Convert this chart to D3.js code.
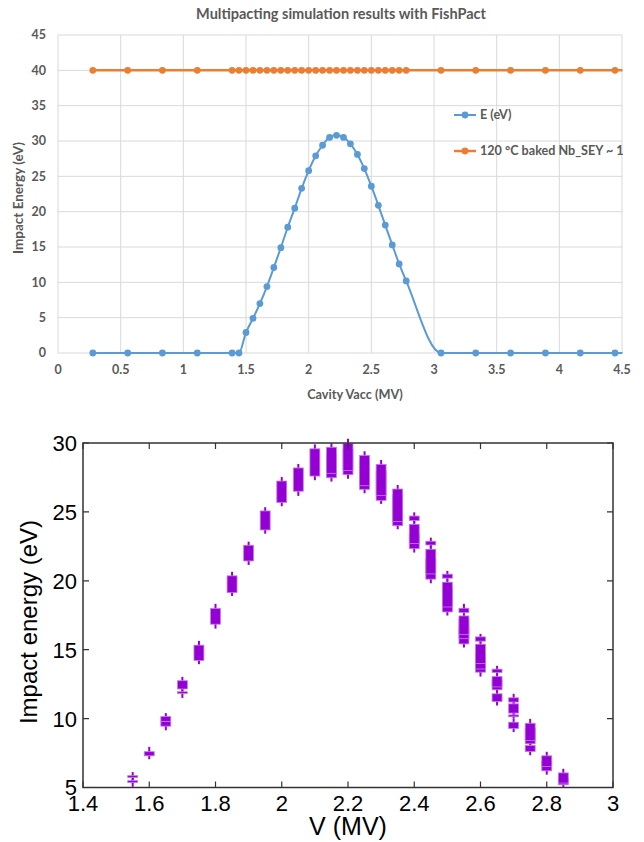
<!DOCTYPE html>
<html>
<head>
<meta charset="utf-8">
<script src="https://cdn.jsdelivr.net/npm/d3@7"></script>
<style>
  body { margin: 0; background: #fff; }
  svg { display: block; }
</style>
</head>
<body>
<script>
// Top chart (FishPact) data
const vacc = [0.278, 0.556, 0.833, 1.111, 1.389, 1.444, 1.5, 1.556, 1.611, 1.667, 1.722, 1.778,
  1.833, 1.889, 1.944, 2.0, 2.056, 2.111, 2.167, 2.222, 2.278, 2.333, 2.389, 2.444, 2.5,
  2.556, 2.611, 2.667, 2.722, 2.778, 3.056, 3.333, 3.611, 3.889, 4.167, 4.444, 4.722];
const energyE = [0, 0, 0, 0, 0, 0, 2.9, 4.9, 7.0, 9.4, 12.1, 14.9,
  17.8, 20.5, 23.3, 25.8, 27.9, 29.4, 30.5, 30.8, 30.5, 29.6, 28.1, 26.1, 23.6,
  20.9, 18.1, 15.3, 12.6, 10.2, 0, 0, 0, 0, 0, 0, 0];
const seyLine = [40, 40, 40, 40, 40, 40, 40, 40, 40, 40, 40, 40,
  40, 40, 40, 40, 40, 40, 40, 40, 40, 40, 40, 40, 40,
  40, 40, 40, 40, 40, 40, 40, 40, 40, 40, 40, 40];
const topXTicks = [0, 0.5, 1, 1.5, 2, 2.5, 3, 3.5, 4, 4.5];
const topYTicks = [0, 5, 10, 15, 20, 25, 30, 35, 40, 45];
const topSeries = ["E (eV)", "120 °C baked Nb_SEY ~ 1"];

// Bottom chart (candlesticks) data: one entry per box
const candleV = [1.55, 1.55, 1.6, 1.65, 1.65, 1.7, 1.7, 1.75, 1.8, 1.85, 1.9, 1.95, 2.0, 2.05, 2.1,
  2.15, 2.15, 2.2, 2.2, 2.25, 2.25, 2.3, 2.3, 2.35, 2.35,
  2.4, 2.4, 2.4, 2.45, 2.45, 2.45, 2.5, 2.5, 2.5,
  2.55, 2.55, 2.55, 2.55, 2.6, 2.6, 2.6, 2.6, 2.65, 2.65, 2.65, 2.65,
  2.7, 2.7, 2.7, 2.7, 2.75, 2.75, 2.75, 2.8, 2.8, 2.85, 2.85];
const candleLo = [5.05, 5.3, 7.05, 9.15, 9.4, 11.9, 11.5, 13.95, 16.53, 18.9, 21.15, 23.42, 25.41, 26.16, 27.3,
  27.2, 27.5, 27.4, 27.7, 26.35, 26.6, 25.58, 25.9, 23.74, 24.0,
  22.05, 22.4, 24.2, 19.82, 20.2, 22.4, 17.48, 17.8, 20.0,
  15.16, 15.5, 15.9, 17.6, 13.05, 13.3, 13.7, 15.5, 10.95, 11.9, 12.0, 13.2,
  9.02, 10.0, 10.2, 11.1, 7.34, 7.9, 8.1, 5.93, 6.2, 5.0, 5.3];
const candleQ1 = [5.36, 5.72, 7.3, 9.45, 9.8, 12.15, 11.82, 14.22, 16.85, 19.14, 21.44, 23.69, 25.69, 26.5, 27.6,
  27.48, 27.8, 27.7, 28.0, 26.64, 26.9, 25.84, 26.2, 24.0, 24.3,
  22.33, 22.7, 24.37, 20.12, 20.5, 22.6, 17.74, 18.1, 20.19,
  15.42, 15.8, 16.1, 17.69, 13.37, 13.6, 14.0, 15.62, 11.24, 12.09, 12.3, 13.34,
  9.28, 10.13, 10.4, 11.2, 7.61, 8.17, 8.4, 6.21, 6.53, 5.2, 5.32];
const candleQ3 = [5.5, 5.86, 7.6, 9.8, 10.15, 12.75, 11.95, 15.33, 18.0, 20.36, 22.58, 25.07, 27.24, 28.19, 29.58,
  29.2, 29.69, 29.56, 29.98, 28.7, 29.1, 27.97, 28.45, 26.2, 26.66,
  23.38, 24.1, 24.7, 21.6, 22.29, 22.87, 19.49, 19.9, 20.48,
  16.63, 17.21, 17.45, 18.01, 14.26, 14.65, 15.4, 15.93, 11.8, 12.81, 13.05, 13.59,
  9.74, 10.27, 11.07, 11.51, 8.05, 9.31, 9.66, 6.89, 7.3, 5.69, 6.06];
const candleHi = [5.9, 6.12, 7.95, 10.1, 10.4, 13.03, 12.2, 15.64, 18.33, 20.65, 22.84, 25.34, 27.53, 28.48, 29.9,
  29.5, 29.98, 29.9, 30.3, 29.0, 29.4, 28.3, 28.77, 26.5, 26.95,
  23.7, 24.4, 24.97, 21.9, 22.6, 23.13, 19.8, 20.1, 20.72,
  16.9, 17.45, 17.6, 18.33, 14.5, 15.0, 15.6, 16.15, 12.0, 13.0, 13.3, 13.83,
  10.0, 10.5, 11.3, 11.8, 8.2, 9.6, 9.98, 7.1, 7.59, 5.9, 6.36];
const botXTicks = [1.4, 1.6, 1.8, 2, 2.2, 2.4, 2.6, 2.8, 3];
const botYTicks = [5, 10, 15, 20, 25, 30];

const W = 644, H = 842;
const svg = d3.select("body").append("svg").attr("width", W).attr("height", H);

// ---------------- top chart ----------------
const topFont = "Lato, 'Open Sans', sans-serif";
const gray = "#595959";
const xT = d3.scaleLinear().domain([0, 4.5]).range([58, 622]);
const yT = d3.scaleLinear().domain([0, 45]).range([353, 35]);

const topG = svg.append("g");
topG.append("defs").append("clipPath").attr("id", "clipTop")
  .append("rect").attr("x", 54).attr("y", 25).attr("width", 568.5).attr("height", 340);

// gridlines
topG.append("g").selectAll("line").data(topYTicks).join("line")
  .attr("x1", xT(0)).attr("x2", xT(4.5))
  .attr("y1", d => yT(d)).attr("y2", d => yT(d))
  .attr("stroke", "#d9d9d9").attr("stroke-width", 1);
topG.append("g").selectAll("line").data(topXTicks).join("line")
  .attr("x1", d => xT(d)).attr("x2", d => xT(d))
  .attr("y1", yT(0)).attr("y2", yT(45))
  .attr("stroke", "#d9d9d9").attr("stroke-width", 1);

// tick labels
topG.append("g").selectAll("text").data(topYTicks).join("text")
  .attr("x", 46).attr("y", d => yT(d)).attr("dy", "0.35em")
  .attr("text-anchor", "end").attr("fill", gray)
  .attr("font-family", topFont).attr("font-size", 12.5).attr("font-weight", "bold")
  .text(d => d);
topG.append("g").selectAll("text").data(topXTicks).join("text")
  .attr("x", d => xT(d)).attr("y", 374)
  .attr("text-anchor", "middle").attr("fill", gray)
  .attr("font-family", topFont).attr("font-size", 12.5).attr("font-weight", "bold")
  .text(d => d);

// titles
topG.append("text").attr("x", 341).attr("y", 19).attr("text-anchor", "middle")
  .attr("fill", gray).attr("font-family", topFont).attr("font-size", 14.5).attr("font-weight", "bold")
  .text("Multipacting simulation results with FishPact");
topG.append("text").attr("x", 355).attr("y", 399).attr("text-anchor", "middle")
  .attr("fill", gray).attr("font-family", topFont).attr("font-size", 12.7).attr("font-weight", "bold")
  .text("Cavity Vacc (MV)");
topG.append("text").attr("transform", "translate(23,198) rotate(-90)").attr("text-anchor", "middle")
  .attr("fill", gray).attr("font-family", topFont).attr("font-size", 13.5).attr("font-weight", "bold")
  .text("Impact Energy (eV)");

const seriesG = topG.append("g").attr("clip-path", "url(#clipTop)");
const orange = "#ed7d31", blue = "#5b9bd5";
const sey = vacc.map((v, i) => [v, seyLine[i]]);
const eE = vacc.map((v, i) => [v, energyE[i]]);

seriesG.append("path").datum(sey)
  .attr("fill", "none").attr("stroke", orange).attr("stroke-width", 2.5)
  .attr("d", d3.line().x(d => xT(d[0])).y(d => yT(d[1])));
seriesG.append("g").selectAll("circle").data(sey).join("circle")
  .attr("cx", d => xT(d[0])).attr("cy", d => yT(d[1])).attr("r", 3.4).attr("fill", orange);

seriesG.append("path").datum(eE)
  .attr("fill", "none").attr("stroke", blue).attr("stroke-width", 2)
  .attr("d", d3.line().curve(d3.curveMonotoneX).x(d => xT(d[0])).y(d => yT(d[1])));
seriesG.append("g").selectAll("circle").data(eE).join("circle")
  .attr("cx", d => xT(d[0])).attr("cy", d => yT(d[1])).attr("r", 3.4).attr("fill", blue);

// legend
const leg = topG.append("g");
[blue, orange].forEach((c, i) => {
  const ly = 115 + i * 36;
  leg.append("line").attr("x1", 454).attr("x2", 476).attr("y1", ly).attr("y2", ly)
    .attr("stroke", c).attr("stroke-width", i ? 2.5 : 2);
  leg.append("circle").attr("cx", 465).attr("cy", ly).attr("r", 3.4).attr("fill", c);
  leg.append("text").attr("x", 480).attr("y", ly).attr("dy", "0.35em")
    .attr("fill", gray).attr("font-family", topFont).attr("font-size", 12.6).attr("font-weight", "bold")
    .text(topSeries[i]);
});

// ---------------- bottom chart ----------------
const botFont = "'Liberation Sans', Arial, sans-serif";
const xB = d3.scaleLinear().domain([1.4, 3]).range([83, 613]);
const yB = d3.scaleLinear().domain([5, 30]).range([787.5, 443]);
const botG = svg.append("g");
const violet = "#9400d3";
const boxW = xB(1.43) - xB(1.4);

// candlesticks
const candles = candleV.map((v, i) => ({ v, lo: candleLo[i], q1: candleQ1[i], q3: candleQ3[i], hi: candleHi[i] }));
const cg = botG.append("g");
cg.selectAll("line").data(candles).join("line")
  .attr("x1", d => xB(d.v)).attr("x2", d => xB(d.v))
  .attr("y1", d => yB(d.lo)).attr("y2", d => yB(d.hi))
  .attr("stroke", violet).attr("stroke-width", 2);
cg.selectAll("rect").data(candles).join("rect")
  .attr("x", d => xB(d.v) - boxW / 2).attr("width", boxW)
  .attr("y", d => yB(d.q3)).attr("height", d => yB(d.q1) - yB(d.q3))
  .attr("fill", violet).attr("stroke", "#c27fe6").attr("stroke-width", 0.8);

// border and ticks
const bx0 = xB(1.4), bx1 = xB(3), by0 = yB(5), by1 = yB(30);
const border = "#333";
botG.append("rect").attr("x", bx0).attr("y", by1).attr("width", bx1 - bx0).attr("height", by0 - by1)
  .attr("fill", "none").attr("stroke", border).attr("stroke-width", 1.5);
botG.append("g").selectAll("path").data(botXTicks).join("path")
  .attr("d", d => `M${xB(d)},${by0}v-6M${xB(d)},${by1}v6`)
  .attr("stroke", border).attr("stroke-width", 1.2);
botG.append("g").selectAll("path").data(botYTicks).join("path")
  .attr("d", d => `M${bx0},${yB(d)}h6M${bx1},${yB(d)}h-6`)
  .attr("stroke", border).attr("stroke-width", 1.2);

botG.append("g").selectAll("text").data(botXTicks).join("text")
  .attr("x", d => xB(d)).attr("y", 811).attr("text-anchor", "middle")
  .attr("font-family", botFont).attr("font-size", 22).attr("fill", "#000")
  .text(d => d);
botG.append("g").selectAll("text").data(botYTicks).join("text")
  .attr("x", 77).attr("y", d => yB(d)).attr("dy", "0.36em").attr("text-anchor", "end")
  .attr("font-family", botFont).attr("font-size", 22).attr("fill", "#000")
  .text(d => d);
botG.append("text").attr("x", 348).attr("y", 835).attr("text-anchor", "middle")
  .attr("font-family", botFont).attr("font-size", 25).attr("fill", "#000")
  .text("V (MV)");
botG.append("text").attr("transform", "translate(37,622) rotate(-90)").attr("text-anchor", "middle")
  .attr("font-family", botFont).attr("font-size", 24).attr("fill", "#000")
  .text("Impact energy (eV)");
</script>
</body>
</html>
